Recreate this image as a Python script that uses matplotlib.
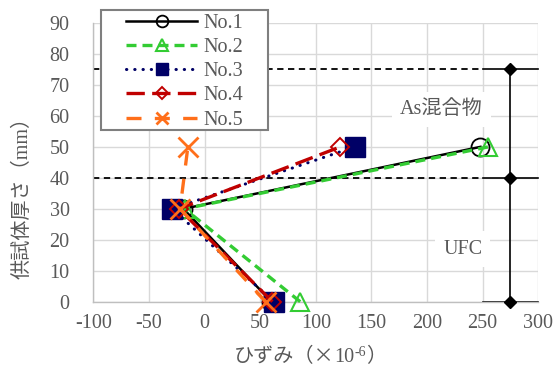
import matplotlib
matplotlib.use("Agg")
import matplotlib.pyplot as plt
from matplotlib.patches import Rectangle

plt.rcParams['font.family'] = ['Liberation Serif', 'Noto Sans CJK JP', 'DejaVu Sans']
plt.rcParams['axes.unicode_minus'] = False

# ---- data ----
thickness = [0, 30, 50]
no1 = [60, -19, 248]
no2 = [86, -18, 255]
no3 = [62, -29, 135]
no4 = [61, -23, 122]
no5 = [55, -22, -15]
labels = ['No.1', 'No.2', 'No.3', 'No.4', 'No.5']

layer_bounds = [0, 40, 75]
ref_x = 275
xticks = [-100, -50, 0, 50, 100, 150, 200, 250, 300]
yticks = [0, 10, 20, 30, 40, 50, 60, 70, 80, 90]

gray = '#595959'
fs = 14.5

fig = plt.figure(figsize=(5.57, 3.76), dpi=100)
ax = fig.add_axes([93.3/557, 1-301.7/376, 445/557, 278.7/376])
ax.set_xlim(-100, 300)
ax.set_ylim(0, 90)
ax.set_xticks(xticks)
ax.set_yticks(yticks)
ax.grid(True, color='#d9d9d9', lw=1.0, zorder=0)
ax.set_axisbelow(True)
for s in ['top', 'right']:
    ax.spines[s].set_visible(False)
for s in ['left', 'bottom']:
    ax.spines[s].set_color('#bfbfbf')
    ax.spines[s].set_linewidth(1.0)
ax.tick_params(length=0, labelsize=fs, labelcolor=gray)
ax.tick_params(axis='y', pad=17)
ax.tick_params(axis='x', pad=9)

# reference lines
for yb in layer_bounds[1:]:
    ax.plot([-100, 250], [yb, yb], color='black', lw=1.3, ls=(0, (3.5, 2.5)), zorder=2)
for yb in layer_bounds:
    ax.plot([250, 300], [yb, yb], color='black', lw=1.2, zorder=2, clip_on=False)
ax.plot([ref_x]*3, layer_bounds, color='black', lw=1.2, marker='D', ms=6,
        mfc='black', mec='black', zorder=3, clip_on=False)

# series
h1, = ax.plot(no1, thickness, color='black', lw=1.8, marker='o', ms=13,
              mfc='none', mec='black', mew=1.3, zorder=4, clip_on=False)
h2, = ax.plot(no2, thickness, color='#33cc33', lw=2.4, ls=(0, (3, 1.8)), marker='^', ms=13,
              mfc='none', mec='#33cc33', mew=1.5, zorder=5, clip_on=False)
h3, = ax.plot(no3, thickness, color='#000066', lw=2.2, ls=(0, (0.1, 2.6)),
              dash_capstyle='round', marker='s', ms=14, mfc='#000066', mec='#000066',
              zorder=6, clip_on=False)
h4, = ax.plot(no4, thickness, color='#c00000', lw=2.4, ls=(0, (5.5, 2.2)), marker='D', ms=9,
              mfc='none', mec='#c00000', mew=1.4, zorder=7, clip_on=False)
h5, = ax.plot(no5, thickness, color='#ff6f1a', lw=2.4, ls=(0, (4.5, 4.0)), marker='x', ms=14,
              mec='#ff6f1a', mew=2.0, zorder=8, clip_on=False)

# annotations
ax.text(213, 62, 'As混合物', fontsize=fs, color=gray, ha='center', va='center',
        bbox=dict(facecolor='white', edgecolor='none', pad=6), zorder=3)
ax.text(232, 17, 'UFC', fontsize=fs, color=gray, ha='center', va='center',
        bbox=dict(facecolor='white', edgecolor='none', pad=6), zorder=3)

# axis labels
fig.text(23/557, 1-193/376, '供試体厚さ（mm）', rotation=90, fontsize=fs, color=gray,
         ha='center', va='center')

# x label built from pieces
renderer = fig.canvas.get_renderer()
xl_y = 1 - 362/376
cjk = ['Noto Sans CJK JP', 'DejaVu Sans']
p1 = fig.text(0, xl_y, 'ひずみ（×', fontsize=fs, color=gray, ha='left', va='baseline', family=cjk)
p2 = fig.text(0, xl_y, '10', fontsize=fs, color=gray, ha='left', va='baseline')
p3 = fig.text(0, xl_y, '-6', fontsize=10, color=gray, ha='left', va='baseline')
p4 = fig.text(0, xl_y, '）', fontsize=fs, color=gray, ha='left', va='baseline', family=cjk)
pieces = [p1, p2, p3, p4]
widths = [p.get_window_extent(renderer).width / 557 for p in pieces]
x0 = 310/557 - sum(widths)/2
cx = x0
for p, w in zip(pieces, widths):
    p.set_x(cx)
    cx += w
p3.set_y(xl_y + 6/376)

# legend
leg = fig.legend([h1, h2, h3, h4, h5], labels, loc='upper left',
                 bbox_to_anchor=(126/557, 1-14/376), frameon=False,
                 borderpad=0, borderaxespad=0, handlelength=3.55, handletextpad=0.3,
                 labelspacing=0.25, markerscale=0.65, fontsize=fs)
for t in leg.get_texts():
    t.set_color(gray)
frame = Rectangle((101/557, 1-130/376), 167/557, 120/376, transform=fig.transFigure,
                  facecolor='white', edgecolor='#7f7f7f', lw=1.5, zorder=5)
fig.add_artist(frame)
leg.set_zorder(10)

fig.savefig('out.png', dpi=100)
